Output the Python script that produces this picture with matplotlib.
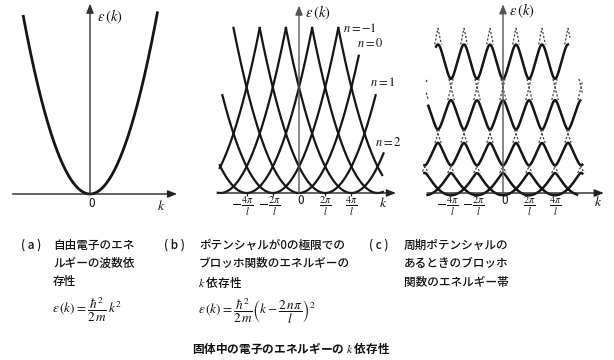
import numpy as np
import matplotlib
matplotlib.use('Agg')
import matplotlib.pyplot as plt

plt.rcParams['font.family'] = ['Noto Sans CJK JP', 'DejaVu Sans']
plt.rcParams['mathtext.fontset'] = 'stix'

# ---------------- data (k in units of pi/l, energy in units of hbar^2/2m (pi/l)^2)
a_k_min, a_k_max = -5.15, 5.2                     # free-electron parabola range
b_n = [-4, -3, -2, -1, 0, 1, 2, 3, 4]                # parabola index n (vertex at 2n pi/l)
b_kmin = [-6.05, -6.2, -6.05, -5.85, -5.05, -3.0, -1.0, 1.0, 3.0]
b_kmax = [-3.0, -1.0, 1.0, 3.0, 4.56, 5.85, 6.45, 6.4, 6.35]
b_label_text = ['$n=-1$', '$n=0$', '$n=1$', '$n=2$']
tick_k = [-4, -2, 0, 2, 4]
tick_text = [r'$-\frac{4\pi}{l}$', r'$-\frac{2\pi}{l}$', '0', r'$\frac{2\pi}{l}$', r'$\frac{4\pi}{l}$']
c_U = [0.25, 0.75, 1.15, 1.7, 2.6]                 # half band gaps
c_kmin = [-5.8, -6.05, -6.05, -5.75, -5.15]        # band k ranges
c_kmax = [5.7, 6.1, 6.1, 5.95, 5.0]
eps_top = 25.0

W, H = 614, 360
fig = plt.figure(figsize=(W / 100, H / 100), dpi=100)
fig.patch.set_facecolor('white')

LINE = '#151515'


def panel(L, R, T, B, ox, oy, sx, sy):
    ax = fig.add_axes([L / W, 1 - B / H, (R - L) / W, (B - T) / H])
    ax.set_xlim((L - ox) / sx, (R - ox) / sx)
    ax.set_ylim((oy - B) / sy, (oy - T) / sy)
    ax.axis('off')
    return ax


def axes_arrows(ax, x0, x1, ytop, vcol='#555555'):
    ap = dict(arrowstyle='-|>,head_length=0.55,head_width=0.22', lw=1.0,
              shrinkA=0, shrinkB=0)
    ax.annotate('', xy=(x1, 0), xytext=(x0, 0),
                arrowprops=dict(ap, color='#222222'))
    ax.annotate('', xy=(0, ytop), xytext=(0, 0),
                arrowprops=dict(ap, color=vcol))


def eps_label(ax, x, y):
    ax.text(x, y, r'$\varepsilon\,(k)$', fontsize=10.5, ha='left', va='center',
            color='#111111')


def k_ticks(ax, ylab):
    ax.vlines([t for t in tick_k if t != 0], -0.45, 0.0, color='#222222', lw=0.9)
    for t, s in zip(tick_k, tick_text):
        if t == 0:
            ax.text(t + 0.1, -1.15, s, fontsize=8.5, ha='center', va='center', color='#111111')
        elif t < 0:
            ax.text(t - 0.3, ylab, s, fontsize=10.5, ha='center', va='center', color='#111111')
        else:
            ax.text(t, ylab, s, fontsize=10.5, ha='center', va='center', color='#111111')


# ---------------- panel (a)
axa = panel(5, 190, 0, 220, 90, 194, 13.0, 6.75)
axes_arrows(axa, -5.95, 6.7, 28.2, vcol='#333333')
ka = np.linspace(a_k_min, a_k_max, 400)
axa.plot(ka, ka ** 2, color=LINE, lw=2.0, solid_capstyle='butt', clip_on=False)
axa.text(0.15, -1.4, '0', fontsize=8.5, ha='center', va='center', color='#111111')
axa.text(5.5, -1.75, r'$k$', fontsize=10, ha='center', va='center', color='#111111')
eps_label(axa, 0.55, 26.2)

# ---------------- panel (b)
axb = panel(205, 410, 0, 220, 299, 193, 13.1, 6.6)
axes_arrows(axb, -6.2, 7.4, 28.4)
for n, k0, k1 in zip(b_n, b_kmin, b_kmax):
    kk = np.linspace(k0, k1, 400)
    ee = (kk - 2 * n) ** 2
    ee = np.where(ee <= eps_top + 0.05, ee, np.nan)
    axb.plot(kk, ee, color=LINE, lw=1.6, clip_on=False)
for s, (lx, ly) in zip(b_label_text, [(3.35, 25.0), (4.4, 22.6), (5.4, 16.8), (5.8, 7.6)]):
    axb.text(lx, ly, s, fontsize=9, ha='left', va='center', color='#111111')
k_ticks(axb, -2.0)
axb.text(6.45, -1.5, r'$k$', fontsize=10, ha='center', va='center', color='#111111')
eps_label(axb, 0.45, 27.3)

# ---------------- panel (c): nearly-free-electron bands
axc = panel(415, 612, 0, 220, 503, 193, 13.0, 6.6)
axes_arrows(axc, -5.85, 7.75, 28.6)

ns = np.arange(-8, 9)
Umat = np.zeros((len(ns), len(ns)))
for i, a in enumerate(ns):
    for j, b in enumerate(ns):
        d = abs(a - b)
        if 1 <= d <= len(c_U):
            Umat[i, j] = c_U[d - 1]


def bands_at(kvals, nb=5):
    out = np.empty((len(kvals), nb))
    for idx, kk in enumerate(kvals):
        Hm = np.diag((kk - 2 * ns) ** 2) + Umat
        out[idx] = np.linalg.eigvalsh(Hm)[:nb]
    return out


kfull = np.linspace(-6.2, 6.2, 1201)
Efull = bands_at(kfull)
for m in range(5):
    sel = (kfull >= c_kmin[m]) & (kfull <= c_kmax[m])
    axc.plot(kfull[sel], Efull[sel, m], color=LINE, lw=1.8, clip_on=False)

# gap intervals and dashed free-electron parabolas inside the gaps
gap_lo = [Efull[:, m].max() for m in range(5)]
gap_hi = [Efull[:, m + 1].min() for m in range(4)] + [eps_top]
for m in range(5):
    for n in range(-5, 6):
        for sgn in (-1, 1):
            ka0 = 2 * n + sgn * np.sqrt(gap_lo[m])
            ka1 = 2 * n + sgn * np.sqrt(gap_hi[m])
            lo_k, hi_k = min(ka0, ka1), max(ka0, ka1)
            lo_k = max(lo_k, c_kmin[m] - 0.15)
            hi_k = min(hi_k, c_kmax[m] + 0.15)
            if hi_k <= lo_k:
                continue
            kk = np.linspace(lo_k, hi_k, 30)
            axc.plot(kk, (kk - 2 * n) ** 2, color='#444444', lw=0.9,
                     linestyle=(0, (1.8, 1.4)), clip_on=False)
k_ticks(axc, -2.0)
axc.text(7.3, -1.4, r'$k$', fontsize=10, ha='center', va='center', color='#111111')
eps_label(axc, 0.45, 27.6)

# ---------------- captions
cap_fs = 8.4
txt = dict(fontsize=cap_fs, color='#111111', va='center', ha='left', fontweight='medium')


def fx(x):
    return x / W


def fy(y):
    return 1 - y / H


fig.text(fx(21), fy(245), '( a )', **txt)
for i, line in enumerate(['自由電子のエネ', 'ルギーの波数依', '存性']):
    fig.text(fx(53), fy(245 + 18.5 * i), line, **txt)
fig.text(fx(52), fy(310), r'$\varepsilon\,(k)=\dfrac{\hbar^2}{2\,m}\,k^2$',
         fontsize=9.5, color='#111111', va='center', ha='left')

fig.text(fx(164), fy(245), '( b )', **txt)
for i, line in enumerate(['ポテンシャルが0の極限での', 'ブロッホ関数のエネルギーの']):
    fig.text(fx(199), fy(245 + 18.5 * i), line, **txt)
fig.text(fx(198), fy(282), r'$k$' + ' 依存性', **txt)
fig.text(fx(198), fy(311),
         r'$\varepsilon\,(k)=\dfrac{\hbar^2}{2\,m}\left(k-\dfrac{2\,n\pi}{l}\right)^2$',
         fontsize=9.5, color='#111111', va='center', ha='left')

fig.text(fx(369), fy(245), '( c )', **txt)
for i, line in enumerate(['周期ポテンシャルの', 'あるときのブロッホ', '関数のエネルギー帯']):
    fig.text(fx(404), fy(245 + 18.5 * i), line, **txt)

fig.text(fx(291), fy(348), '固体中の電子のエネルギーの ' + r'$k$' + ' 依存性',
         fontsize=8.4, fontweight='bold', color='#111111', ha='center', va='center')

fig.savefig('out.png', dpi=100, facecolor='white')
